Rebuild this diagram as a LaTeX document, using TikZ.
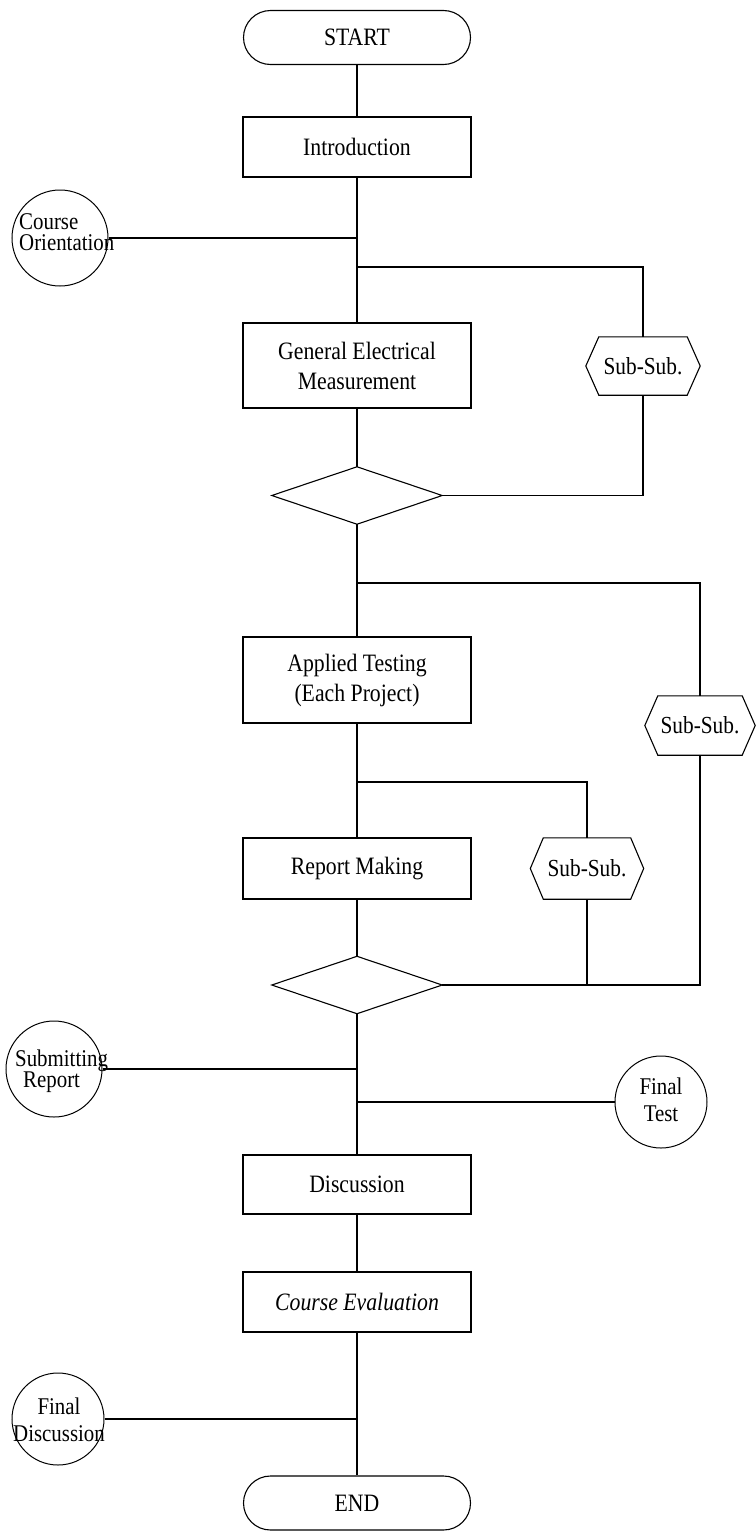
\documentclass[tikz,border=0pt]{standalone}
\usepackage{fontspec}
\setmainfont[FakeStretch=0.87]{Liberation Serif}
\begin{document}
\begin{tikzpicture}[x=1pt,y=-1pt,
  every node/.style={font=\fontsize{25}{30}\selectfont, inner sep=0pt, align=center},
  terminal/.style={draw, line width=1.1pt, rounded corners=27pt, minimum width=227pt, minimum height=54pt},
  procbox/.style={draw, line width=1.1pt, minimum width=228pt},
  decision/.style={minimum width=170pt, minimum height=57pt},
  subsub/.style={font=\fontsize{24.5}{26}\selectfont},
  aside/.style={draw, circle, line width=1pt, minimum size=96pt},
  asidetext/.style={font=\fontsize{24}{21}\selectfont},
  outline/.style={line width=1.1pt, line join=miter},
  spine/.style={line width=1.8pt},
  link/.style={line width=1.1pt}
]
\useasboundingbox (0,0) rectangle (755,1531);
\fill[white] (0,0) rectangle (755,1531);

% main column
\node[terminal] (start) at (357,37.5) {START};
\node[procbox, minimum height=60pt] (intro) at (357,147) {Introduction};
\node[procbox, minimum height=85pt] (gem) at (357,365.5) {General Electrical\\Measurement};
\node[decision] (d1) at (357,495.5) {};
\node[procbox, minimum height=86pt] (at) at (357,680) {Applied Testing\\(Each Project)};
\node[procbox, minimum height=61pt] (rm) at (357,868.5) {Report Making};
\node[decision] (d2) at (357,985) {};
\node[procbox, minimum height=59pt] (disc) at (357,1184.5) {Discussion};
\node[procbox, minimum height=60pt] (ce) at (357,1302) {\itshape Course Evaluation};
\node[terminal] (end) at (357,1503) {END};

% sub-sub hexagons
\node[subsub, minimum width=114pt, minimum height=58pt] (h1) at (643,366) {Sub-Sub.};
\node[subsub, minimum width=110pt, minimum height=59pt] (h2) at (700,725.5) {Sub-Sub.};
\node[subsub, minimum width=113pt, minimum height=61pt] (h3) at (587,868.5) {Sub-Sub.};
\foreach \h in {h1,h2,h3}{
  \draw[outline] ([xshift=13pt]\h.north west) -- ([xshift=-13pt]\h.north east) -- (\h.east)
    -- ([xshift=-13pt]\h.south east) -- ([xshift=13pt]\h.south west) -- (\h.west) -- cycle;
}
\foreach \d in {d1,d2}{
  \draw[outline] (\d.north) -- (\d.east) -- (\d.south) -- (\d.west) -- cycle;
}

% side activities
\node[aside] (co) at (60,238) {};
\node[asidetext, anchor=west, align=left] at (19,232) {Course\\Orientation};
\node[aside, minimum size=96pt] (sr) at (54,1069) {};
\node[asidetext, anchor=west, align=left] at (15,1071) {Submitting\\\hspace*{8pt}Report};
\node[aside, minimum size=92pt] (ft) at (661,1102) {};
\node[asidetext, font=\fontsize{24}{27}\selectfont] at (661,1100) {Final\\Test};
\node[aside, minimum size=92pt] (fd) at (58,1419) {};
\node[asidetext, font=\fontsize{24}{27}\selectfont] at (59,1420) {Final\\Discussion};

% spine
\draw[spine] (start) -- (intro);
\draw[spine] (intro) -- (gem);
\draw[spine] (gem) -- (d1.north);
\draw[spine] (d1.south) -- (at);
\draw[spine] (at) -- (rm);
\draw[spine] (rm) -- (d2.north);
\draw[spine] (d2.south) -- (disc);
\draw[spine] (disc) -- (ce);
\draw[spine] (ce) -- (end);

% branch points on the spine
\coordinate (j1) at (357,267);
\coordinate (j2) at (357,583);
\coordinate (j3) at (357,782);

% loops through the sub-sub steps
\draw[link] (j1) -| (h1.north);
\draw[link] (h1.south) |- (d1.east);
\draw[link] (j2) -| (h2.north);
\draw[link] (h2.south) |- (d2.east);
\draw[link] (j3) -| (h3.north);
\draw[link] (h3.south) -- (h3.south |- d2.east);

% side connections
\draw[link] (co.east) -- (co.east -| intro.south);
\draw[link] (sr.east) -- (sr.east -| d2.south);
\draw[link] (ft.west) -- (ft.west -| disc.north);
\draw[link] (fd.east) -- (fd.east -| end.north);
\end{tikzpicture}
\end{document}
